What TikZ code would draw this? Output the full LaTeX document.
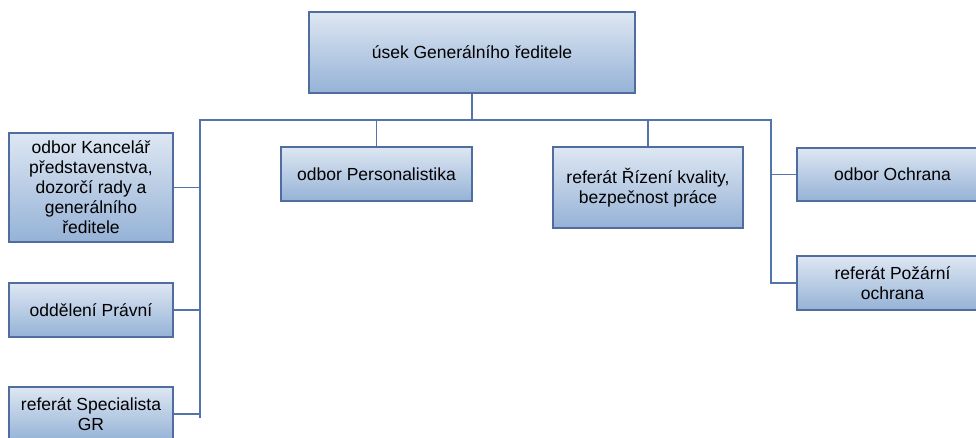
\documentclass[tikz,border=0pt]{standalone}
\usepackage{fontspec}
\setmainfont{Liberation Sans}
\definecolor{boxtop}{RGB}{222,231,243}
\definecolor{boxbot}{RGB}{149,178,214}
\definecolor{boxline}{RGB}{79,109,158}
\definecolor{wire}{RGB}{82,116,170}
\begin{document}
\begin{tikzpicture}[x=1pt,y=-1pt,
    unit/.style={draw=boxline, line width=1.2pt, top color=boxtop, bottom color=boxbot,
        align=center, inner sep=2pt, font=\fontsize{17.5}{20}\selectfont},
    wires/.style={draw=wire, line width=1.3pt}]
    \clip (0,0) rectangle (976,438);
    \fill[white] (0,0) rectangle (976,438);
    \node [unit, minimum width=326pt, minimum height=81pt] (gr) at (472,52.5) {úsek Generálního ředitele};
    \node [unit, minimum width=164pt, minimum height=109pt] (kanc) at (91,187.5) {odbor Kancelář\\představenstva,\\dozorčí rady a\\generálního\\ředitele};
    \node [unit, minimum width=164pt, minimum height=54pt] (prav) at (91,310) {oddělení Právní};
    \node [unit, minimum width=164pt, minimum height=54pt] (spec) at (91,414) {referát Specialista\\GR};
    \node [unit, minimum width=191pt, minimum height=54pt] (pers) at (376.5,174) {odbor Personalistika};
    \node [unit, minimum width=190pt, minimum height=81pt] (kval) at (648,187.5) {referát Řízení kvality,\\bezpečnost práce};
    \node [unit, minimum width=191pt, minimum height=53pt] (ochr) at (892.5,174.5) {odbor Ochrana};
    \node [unit, minimum width=191pt, minimum height=54pt] (poz) at (892.5,283) {referát Požární\\ochrana};
    % sběrnice
    \coordinate (bus) at (472,120);
    \coordinate (busl) at (200,120);
    \coordinate (busr) at (771,120);
    \coordinate (endl) at (200,418);
    \draw [wires] (gr.south) -- (bus);
    \draw [wires] (endl) -- (busl) -- (busr) |- (poz.west);
    \draw [wires] (kanc.east) -- (kanc.east -| busl);
    \draw [wires] (prav.east) -- (prav.east -| busl);
    \draw [wires] (spec.east) -- (spec.east -| busl);
    \draw [wires] (pers.north) -- (pers.north |- bus);
    \draw [wires] (kval.north) -- (kval.north |- bus);
    \draw [wires] (ochr.west) -- (ochr.west -| busr);
\end{tikzpicture}
\end{document}
